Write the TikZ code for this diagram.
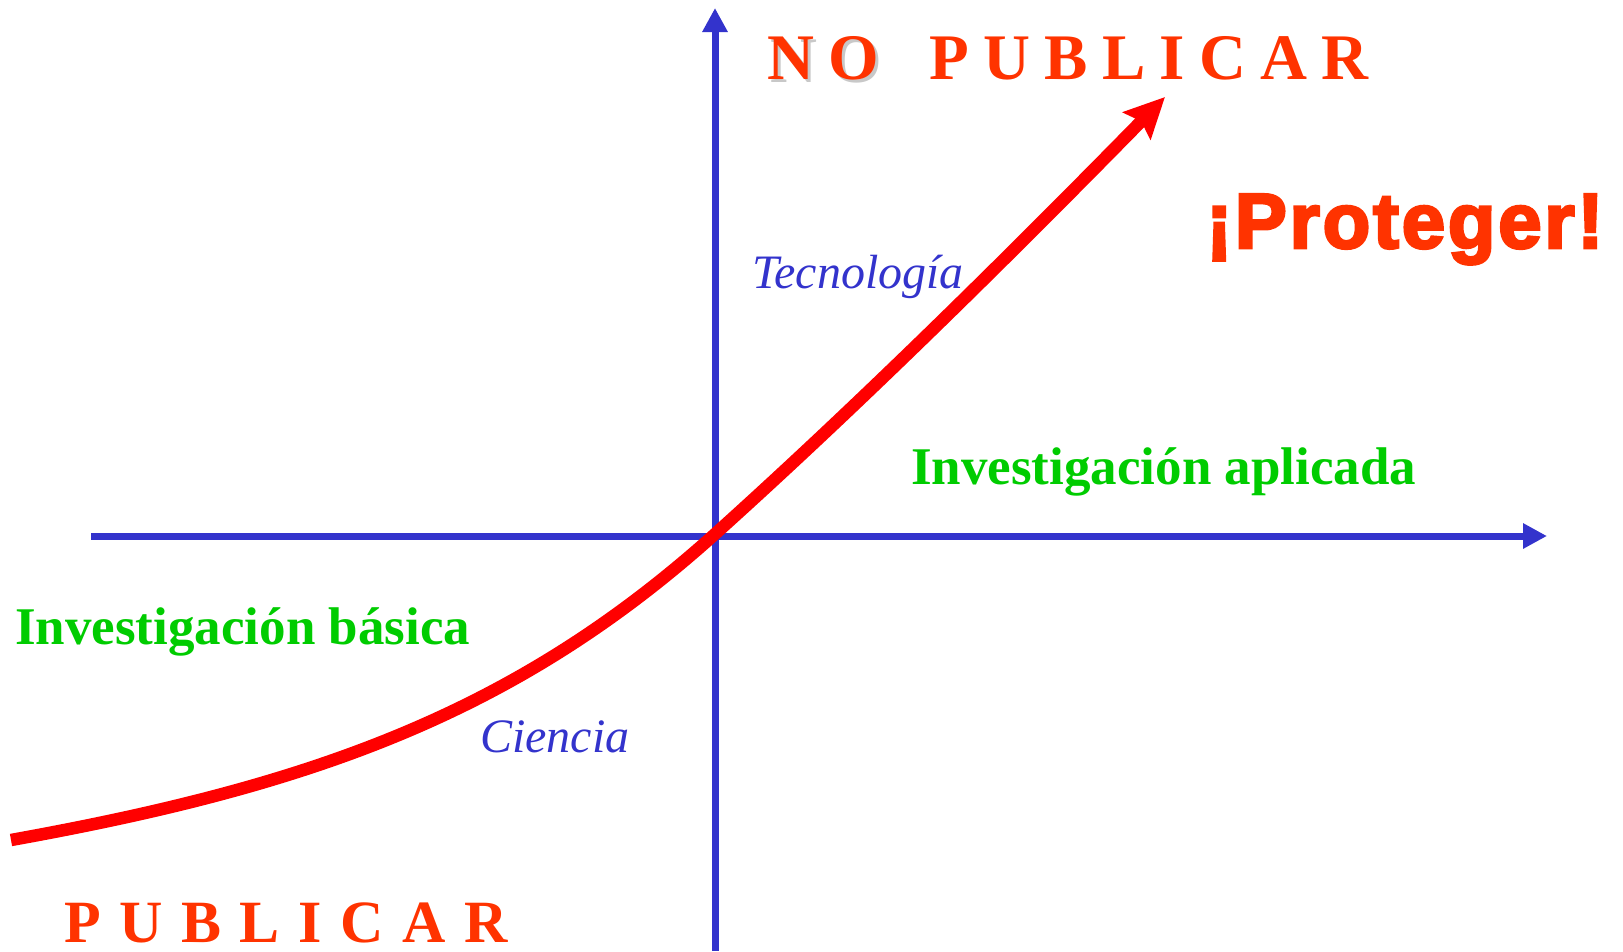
\documentclass[tikz,border=0pt]{standalone}
\usepackage{fontspec}
\setmainfont{Liberation Serif}
\newfontfamily\arialfont{Liberation Sans}
\usetikzlibrary{arrows.meta}
\definecolor{axisblue}{HTML}{3333CC}
\definecolor{txtred}{HTML}{FF3300}
\definecolor{curvered}{HTML}{FF0000}
\definecolor{txtgreen}{HTML}{00CC00}
\definecolor{shadowgray}{HTML}{C8C8C8}
\tikzset{
  axisline/.style={draw=axisblue, line width=7pt, -{Triangle[length=24pt,width=24pt]}},
  curveline/.style={draw=curvered, line width=12.5pt, -{Stealth[length=40pt,width=38pt,inset=6pt]}},
  bigred/.style={anchor=base west, inner sep=0pt, text=txtred, font=\fontsize{65}{70}\selectfont\bfseries\addfontfeature{LetterSpace=22}},
  bigredb/.style={anchor=base west, inner sep=0pt, text depth=0pt, text=txtred, font=\fontsize{60}{66}\selectfont\bfseries\addfontfeature{LetterSpace=31}},
  greenlabel/.style={anchor=base west, inner sep=0pt, text=txtgreen, font=\fontsize{53}{58}\selectfont\bfseries},
  bluelabel/.style={anchor=base west, inner sep=0pt, text=axisblue, font=\fontsize{48}{52}\selectfont\itshape},
  protect/.style={anchor=base west, inner sep=0pt, text=txtred, font=\fontsize{78}{82}\selectfont\arialfont\bfseries\addfontfeature{FakeBold=3.5,LetterSpace=3.5}}
}
\begin{document}
\begin{tikzpicture}[x=1pt,y=-1pt]
\useasboundingbox (0,0) rectangle (1623,951);
% axes
\coordinate (hstart) at (91,536);
\coordinate (hend) at (1547,536);
\coordinate (vstart) at (715,951);
\coordinate (vend) at (715,8);
\draw[axisline] (hstart) -- (hend);
\draw[axisline] (vstart) -- (vend);
% curve
\coordinate (cstart) at (11,840);
\coordinate (corig) at (715,534);
\coordinate (ctip) at (1165,97);
\draw[curveline] (cstart) .. controls (311,786) and (515,714) .. (corig)
  .. controls (865,399) and (1015,250) .. (ctip);
% texts
\node[bigred, text=shadowgray] (noshadow) at (770,82) {NO};
\node[bigred] (no) at (767,79) {NO};
\node[bigred] (publicar1) at (929,79) {PUBLICAR};
\node[bigredb] (publicar2) at (64,942) {PUBLICAR};
\node[protect] (proteger) at (1206,248) {¡Proteger!};
\node[greenlabel] (aplicada) at (911,484) {Investigación aplicada};
\node[greenlabel] (basica) at (15,644) {Investigación básica};
\node[bluelabel] (tecno) at (752,288) {Tecnología};
\node[bluelabel] (ciencia) at (480,752) {Ciencia};
\end{tikzpicture}
\end{document}
